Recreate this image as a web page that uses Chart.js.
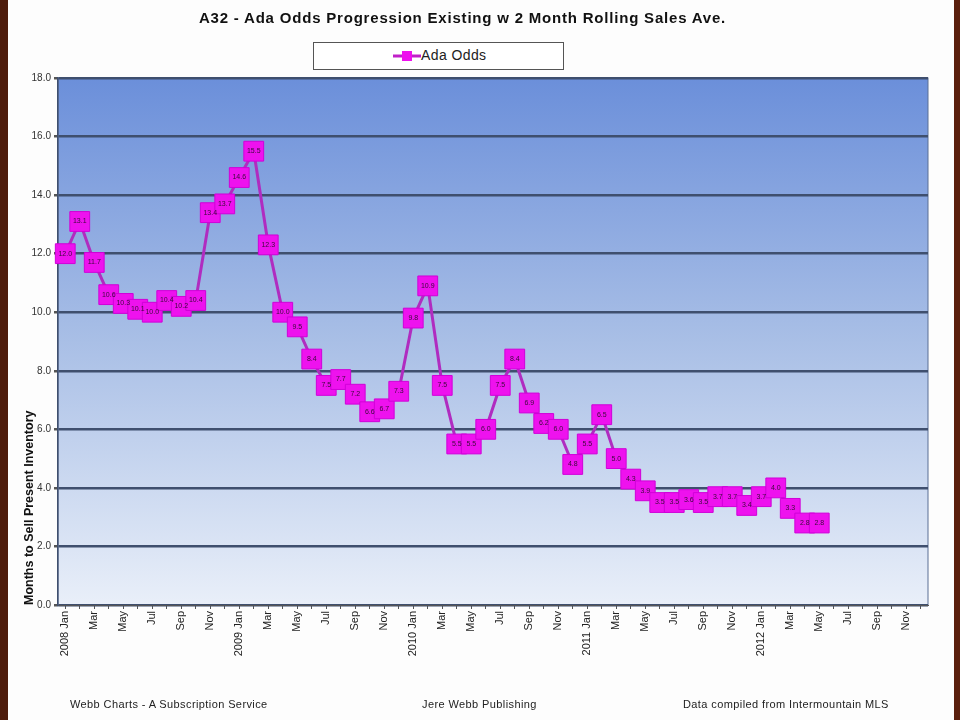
<!DOCTYPE HTML>
<html>
<head>
    <script src="https://cdn.jsdelivr.net/npm/chart.js"></script>
    <style>
        body { margin: 0; background: #fdfdfd; font-family: "Liberation Sans", Arial, sans-serif; }
        #wrap { position: relative; width: 960px; height: 720px; overflow: hidden; }
        #leftEdge { position: absolute; left: 0; top: 0; width: 8px; height: 720px; background: #4e1c0c; }
        #rightEdge { position: absolute; left: 954px; top: 0; width: 6px; height: 720px; background: #5a200e; }
        #title { position: absolute; left: 0; width: 925px; top: 9px; text-align: center; font-weight: bold; font-size: 15px; letter-spacing: 0.8px; color: #111; }
        #legendBox { position: absolute; left: 313px; top: 42px; width: 249px; height: 26px; border: 1.5px solid #555; background: #fff; }
        #legendItem { position: absolute; left: 79px; top: 4px; font-size: 14px; letter-spacing: 0.4px; color: #222; white-space: nowrap; }
        #legendItem canvas { vertical-align: middle; margin-right: 0; }
        .foot { position: absolute; top: 698px; font-size: 11px; letter-spacing: 0.4px; color: #222; }
        #chartBox { position: absolute; left: 0; top: 0; width: 960px; height: 720px; }
    </style>
</head>
<body>
<div id="wrap">
    <div id="chartBox"><canvas id="myChart" width="960" height="720"></canvas></div>
    <div id="leftEdge"></div>
    <div id="rightEdge"></div>
    <div id="title">A32 - Ada Odds Progression Existing w 2 Month Rolling Sales Ave.</div>
    <div id="legendBox"><div id="legendItem"><canvas id="legendMark" width="28" height="12"></canvas>Ada Odds</div></div>
    <div class="foot" style="left:70px">Webb Charts - A Subscription Service</div>
    <div class="foot" style="left:422px">Jere Webb Publishing</div>
    <div class="foot" style="left:683px">Data compiled from Intermountain MLS</div>
</div>

<script type="text/javascript">

    const years = ['2008', '2009', '2010', '2011', '2012'];
    const months = ['Jan', 'Feb', 'Mar', 'Apr', 'May', 'Jun', 'Jul', 'Aug', 'Sep', 'Oct', 'Nov', 'Dec'];

    // Jan 2008 .. May 2012
    const adaOdds = [
        12.0, 13.1, 11.7, 10.6, 10.3, 10.1, 10.0, 10.4, 10.2, 10.4, 13.4, 13.7,
        14.6, 15.5, 12.3, 10.0, 9.5, 8.4, 7.5, 7.7, 7.2, 6.6, 6.7, 7.3,
        9.8, 10.9, 7.5, 5.5, 5.5, 6.0, 7.5, 8.4, 6.9, 6.2, 6.0, 4.8,
        5.5, 6.5, 5.0, 4.3, 3.9, 3.5, 3.5, 3.6, 3.5, 3.7, 3.7, 3.4,
        3.7, 4.0, 3.3, 2.8, 2.8
    ];

    const yTicks = [0, 2, 4, 6, 8, 10, 12, 14, 16, 18];

    let labels = [];
    for (let y = 0; y < years.length; y++) {
        for (let m = 0; m < months.length; m++) {
            labels.push(years[y] + ' ' + months[m]);
        }
    }

    // legend marker: line with square
    const lm = document.getElementById('legendMark').getContext('2d');
    lm.strokeStyle = '#c020c8';
    lm.lineWidth = 3;
    lm.beginPath(); lm.moveTo(0, 6); lm.lineTo(28, 6); lm.stroke();
    lm.fillStyle = '#ee10ee';
    lm.fillRect(9, 1, 10, 10);

    const plotBg = {
        id: 'plotBg',
        beforeDraw(chart) {
            const a = chart.chartArea;
            const ctx = chart.ctx;
            const g = ctx.createLinearGradient(0, a.top, 0, a.bottom);
            g.addColorStop(0, '#6b8fda');
            g.addColorStop(0.5, '#a9bfe6');
            g.addColorStop(1, '#e9eff9');
            ctx.save();
            ctx.fillStyle = g;
            ctx.fillRect(a.left, a.top, a.right - a.left, a.bottom - a.top);
            ctx.strokeStyle = '#5b6f94';
            ctx.lineWidth = 1;
            ctx.strokeRect(a.left, a.top, a.right - a.left, a.bottom - a.top);
            ctx.restore();
        }
    };

    const pointText = {
        id: 'pointText',
        afterDatasetsDraw(chart) {
            const ctx = chart.ctx;
            const meta = chart.getDatasetMeta(0);
            ctx.save();
            ctx.font = '7px "Liberation Sans", Arial, sans-serif';
            ctx.fillStyle = '#3a0a3a';
            ctx.textAlign = 'center';
            ctx.textBaseline = 'middle';
            meta.data.forEach(function (p, i) {
                const v = adaOdds[i];
                if (v == null) return;
                ctx.fillText(v.toFixed(1), p.x, p.y);
            });
            ctx.restore();
        }
    };

    const data = {
        labels: labels,
        datasets: [{
            label: 'Ada Odds',
            data: adaOdds,
            borderColor: '#b02cc0',
            borderWidth: 3,
            backgroundColor: '#ee12ee',
            pointStyle: 'rect',
            pointRadius: 14,
            pointBorderColor: '#d000d8',
            pointBorderWidth: 1,
            pointBackgroundColor: '#ee12ee',
            tension: 0
        }]
    };

    const config = {
        type: 'line',
        data: data,
        plugins: [plotBg, pointText],
        options: {
            responsive: false,
            animation: false,
            layout: { padding: { left: 22, right: 32, top: 78, bottom: 45 } },
            plugins: {
                legend: { display: false },
                title: { display: false },
                tooltip: { enabled: false }
            },
            scales: {
                x: {
                    offset: true,
                    afterFit: function (s) { s.height = 70; },
                    grid: { drawOnChartArea: false, drawTicks: true, tickLength: 4, color: '#555', offset: false },
                    border: { color: '#555' },
                    ticks: {
                        autoSkip: false,
                        maxRotation: 90,
                        minRotation: 90,
                        padding: 2,
                        color: '#222',
                        font: { size: 11, family: '"Liberation Sans", Arial, sans-serif' },
                        callback: function (v, i) {
                            if (i % 2 != 0) return '';
                            const l = labels[i];
                            return l.indexOf('Jan') >= 0 ? l : l.split(' ')[1];
                        }
                    }
                },
                y: {
                    min: 0,
                    max: 18,
                    afterFit: function (s) { s.width = 36; },
                    afterBuildTicks: function (s) { s.ticks = yTicks.map(v => ({ value: v })); },
                    grid: { color: '#3f4f6e', lineWidth: 2.5, tickLength: 4, tickColor: '#555' },
                    border: { color: '#3f4f6e', width: 1.5 },
                    title: {
                        display: true,
                        text: 'Months to Sell Present Inventory',
                        align: 'start',
                        padding: 0,
                        color: '#111',
                        font: { size: 12.5, weight: 'bold', family: '"Liberation Sans", Arial, sans-serif' }
                    },
                    ticks: {
                        color: '#333',
                        padding: 3,
                        font: { size: 10, family: '"Liberation Sans", Arial, sans-serif' },
                        callback: function (v) { return Number(v).toFixed(1); }
                    }
                }
            }
        }
    };

    const myChart = new Chart(document.getElementById('myChart'), config);

</script>
</body>
</html>
